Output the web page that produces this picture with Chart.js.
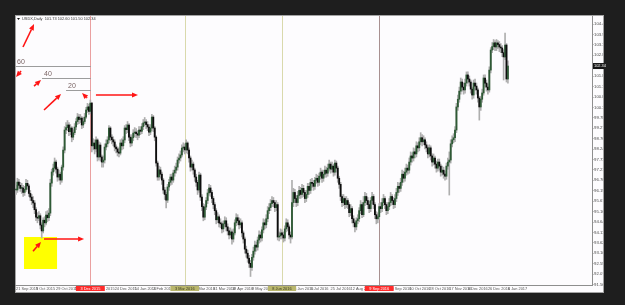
<!DOCTYPE html>
<html>
<head>
<meta charset="utf-8">
<title>USDX,Daily</title>
<script src="https://cdn.jsdelivr.net/npm/chart.js@4.4.1/dist/chart.umd.min.js"></script>
<style>
  html, body { margin: 0; padding: 0; background: #1e1e1e; }
  #wrap { width: 625px; height: 305px; }
</style>
</head>
<body>
<div id="wrap"><canvas id="chart" width="625" height="305"></canvas></div>
<script>
'use strict';

/* ── Daily bars (open = previous close) ── */
const closes = [
  96.22,96.61,96.45,96.30,96.32,96.10,96.25,96.55,96.42,96.05,95.87,95.70,95.58,95.25,94.88,94.83,94.95,94.49,94.20,94.73,
  94.60,94.98,94.85,95.08,96.56,97.11,97.30,97.60,97.25,96.86,97.00,96.71,97.35,98.19,99.18,99.30,99.43,99.10,99.28,98.83,
  99.05,99.33,99.60,99.82,99.70,99.77,99.43,99.60,99.82,100.17,100.32,100.10,100.51,98.40,98.54,98.25,98.69,97.85,98.44,97.85,
  97.60,97.70,98.34,98.50,98.69,99.28,98.83,98.70,98.59,98.34,98.25,98.09,98.04,98.54,98.40,98.69,99.28,99.20,99.43,98.83,
  98.54,98.80,99.03,99.08,99.00,98.93,99.18,99.12,99.35,99.53,99.58,99.45,99.33,99.08,99.28,99.82,99.28,98.83,97.55,96.86,
  97.21,97.00,96.71,96.22,96.00,95.72,96.37,96.60,96.86,96.71,97.06,97.20,97.35,97.70,97.80,97.95,98.29,98.34,98.20,98.54,
  98.19,97.80,97.35,97.50,97.21,96.86,96.60,96.22,96.96,95.87,95.40,94.88,95.38,95.70,96.07,96.32,96.10,95.80,95.50,95.20,
  94.75,94.90,94.60,94.55,94.30,94.55,94.70,94.40,94.20,94.00,94.15,93.80,94.10,94.60,94.85,94.70,94.50,94.60,94.10,93.80,
  93.30,93.10,92.85,92.60,92.40,92.90,93.20,93.50,93.40,93.75,94.00,93.85,94.25,94.60,94.50,94.80,95.20,95.35,95.55,95.70,
  95.60,95.35,95.50,93.90,93.95,94.10,94.00,93.85,94.30,94.60,94.40,94.00,93.90,95.60,96.10,95.80,95.60,95.95,96.20,96.00,
  96.30,96.10,95.80,96.00,96.40,96.20,96.60,96.55,96.40,96.70,96.80,96.60,96.90,97.10,96.80,97.00,97.20,97.05,97.30,97.50,
  97.25,97.40,97.10,97.55,97.30,96.80,96.50,95.90,95.60,95.80,95.50,95.70,95.50,95.10,95.30,94.80,94.60,94.40,94.70,94.80,
  95.20,95.50,95.00,95.60,95.90,95.70,95.50,95.30,95.70,95.90,95.50,95.00,94.80,94.90,95.40,95.30,95.60,95.80,95.50,95.20,
  95.40,95.60,95.90,95.70,95.50,95.80,96.10,96.40,96.30,96.60,97.00,96.80,97.10,97.30,97.20,97.60,97.90,97.80,98.10,98.00,
  98.40,98.30,98.60,98.80,98.60,98.70,98.45,98.30,98.00,98.30,97.90,97.60,97.80,97.50,97.30,97.60,97.40,97.10,97.20,97.00,
  96.90,97.40,97.60,97.70,98.50,98.70,98.80,99.18,100.32,100.70,101.10,101.55,101.30,101.16,101.50,101.90,101.70,101.55,101.20,100.91,
  101.50,101.35,101.16,100.76,100.32,100.70,101.01,101.75,101.50,101.30,101.16,102.14,103.13,103.30,103.48,103.28,103.48,103.40,103.28,103.23,
  103.00,102.79,103.38,101.70,102.34
];
const highs = [
  96.45,96.80,96.75,96.60,96.55,96.45,96.40,96.75,96.70,96.50,96.20,96.00,95.90,95.70,95.35,95.10,95.15,95.05,94.60,94.85,
  94.90,95.15,95.20,95.30,96.75,97.25,97.50,97.80,97.70,97.35,97.20,97.10,97.45,98.35,99.35,99.55,99.65,99.55,99.45,99.35,
  99.20,99.50,99.75,100.00,99.95,99.95,99.85,99.80,100.00,100.30,100.50,100.45,100.66,100.55,98.75,98.70,98.85,98.75,98.60,98.55,
  97.95,97.90,98.50,98.70,98.85,99.40,99.35,98.95,98.85,98.70,98.45,98.35,98.30,98.70,98.75,98.85,99.40,99.45,99.60,99.50,
  98.95,98.95,99.20,99.30,99.25,99.15,99.35,99.35,99.50,99.70,99.80,99.70,99.60,99.45,99.45,99.95,99.90,99.35,98.90,97.65,
  97.40,97.35,97.10,96.80,96.35,96.10,96.50,96.75,97.00,97.00,97.20,97.40,97.55,97.85,98.00,98.15,98.45,98.55,98.50,98.70,
  98.60,98.30,97.90,97.70,97.60,97.30,97.00,96.70,97.10,97.05,96.00,95.55,95.50,95.85,96.25,96.50,96.45,96.20,95.90,95.60,
  95.30,95.10,95.00,94.80,94.65,94.70,94.90,94.85,94.55,94.35,94.35,94.25,94.30,94.75,95.05,95.00,94.85,94.80,94.70,94.20,
  93.90,93.45,93.25,93.00,92.75,93.05,93.40,93.70,93.65,93.90,94.20,94.15,94.40,94.80,94.75,95.00,95.40,95.55,95.75,95.90,
  95.85,95.70,95.70,95.60,94.15,94.30,94.25,94.15,94.45,94.80,94.75,94.50,94.15,96.70,96.30,96.25,95.95,96.15,96.40,96.35,
  96.50,96.45,96.20,96.20,96.55,96.55,96.75,96.80,96.70,96.85,97.00,96.95,97.05,97.30,97.20,97.20,97.40,97.35,97.50,97.70,
  97.60,97.60,97.50,97.70,97.65,97.40,96.90,96.60,96.00,96.00,95.90,95.90,95.80,95.60,95.50,95.40,94.95,94.70,94.85,95.00,
  95.35,95.70,95.60,95.90,96.10,96.05,95.85,95.65,95.85,96.10,96.00,95.60,95.15,95.10,95.55,95.60,95.80,96.00,95.90,95.60,
  95.60,95.80,96.10,96.00,95.85,96.00,96.30,96.60,96.55,96.80,97.20,97.15,97.30,97.50,97.45,97.80,98.10,98.05,98.30,98.25,
  98.60,98.55,98.80,99.05,98.95,98.90,98.80,98.60,98.40,98.45,98.40,98.00,98.00,97.90,97.65,97.75,97.75,97.50,97.40,97.35,
  97.15,97.55,97.80,98.10,98.70,98.90,99.00,99.35,100.50,100.90,101.30,101.75,101.70,101.50,101.70,102.05,102.05,101.85,101.65,101.30,
  101.65,101.70,101.50,101.25,100.85,100.85,101.20,101.90,101.90,101.65,101.45,102.30,103.25,103.50,103.65,103.60,103.65,103.60,103.55,103.45,
  103.35,103.15,103.97,103.45,102.60
];
const lows = [
  96.00,96.10,96.30,96.15,96.05,95.90,95.95,96.15,96.25,95.90,95.70,95.50,95.35,95.05,94.70,94.60,94.70,94.30,93.85,94.10,
  94.40,94.50,94.65,94.70,94.95,96.40,96.95,97.15,97.05,96.65,96.70,96.50,96.60,97.20,98.05,99.00,99.15,98.90,98.95,98.60,
  98.70,98.95,99.20,99.45,99.50,99.55,99.25,99.30,99.50,99.75,100.05,99.95,100.00,98.10,98.20,98.00,98.10,97.65,97.70,97.65,
  97.35,97.35,97.55,98.20,98.35,98.55,98.65,98.50,98.40,98.15,98.05,97.90,97.85,97.95,98.20,98.25,98.55,99.00,99.05,98.65,
  98.35,98.40,98.65,98.85,98.80,98.70,98.80,98.95,99.00,99.20,99.40,99.25,99.15,98.90,98.95,99.15,99.10,98.65,97.40,96.70,
  96.70,96.80,96.50,96.05,95.75,95.33,95.60,96.20,96.45,96.50,96.60,96.90,97.05,97.20,97.55,97.65,97.85,98.10,98.00,98.05,
  98.00,97.60,97.15,97.20,97.00,96.65,96.40,96.00,96.10,95.70,95.20,94.70,94.75,95.25,95.55,95.95,95.90,95.60,95.30,95.00,
  94.55,94.60,94.40,94.35,94.10,94.15,94.40,94.20,94.00,93.80,93.85,93.55,93.65,94.00,94.45,94.50,94.30,94.35,93.90,93.60,
  93.10,92.90,92.65,92.40,91.95,92.25,92.75,93.05,93.20,93.25,93.60,93.65,93.70,94.10,94.30,94.35,94.65,95.05,95.20,95.40,
  95.40,95.15,95.20,93.75,93.70,93.80,93.80,93.65,93.70,94.15,94.20,93.80,93.60,93.80,95.40,95.60,95.40,95.45,95.80,95.80,
  95.85,95.90,95.60,95.65,95.85,96.00,96.05,96.35,96.20,96.25,96.55,96.40,96.45,96.75,96.60,96.65,96.85,96.85,96.90,97.15,
  97.05,97.10,96.90,96.95,97.10,96.60,96.30,95.70,95.40,95.45,95.30,95.35,95.30,94.90,94.95,94.60,94.40,94.15,94.25,94.55,
  94.65,95.05,94.85,94.90,95.45,95.50,95.30,95.10,95.15,95.55,95.30,94.80,94.55,94.60,94.75,95.10,95.15,95.45,95.30,95.00,
  95.05,95.25,95.45,95.50,95.30,95.35,95.65,95.95,96.10,96.15,96.45,96.60,96.65,96.95,97.00,97.05,97.45,97.60,97.65,97.80,
  97.85,98.10,98.15,98.45,98.40,98.45,98.25,98.10,97.80,97.85,97.70,97.40,97.45,97.30,97.10,97.15,97.20,96.90,96.95,96.80,
  96.70,96.75,97.25,95.97,97.55,98.35,98.55,98.60,99.05,100.15,100.55,100.95,101.10,100.95,101.00,101.35,101.50,101.35,101.00,100.70,
  100.75,101.15,100.95,100.55,99.67,100.15,100.55,100.90,101.30,101.10,100.95,101.05,102.00,103.00,103.15,103.10,103.10,103.20,103.05,103.00,
  102.80,101.65,102.65,101.55,101.50
];

/* ── Axis labels ── */
const priceTicks = [104.41,103.90,103.38,102.87,102.35,101.84,101.33,100.81,100.30,99.78,99.27,98.76,98.24,
  97.73,97.21,96.70,96.19,95.67,95.16,94.64,94.13,93.62,93.10,92.59,92.07,91.56];
const dateTickBars = [0,14,28,41,55,69,83,96,110,124,138,151,165,179,193,206,220,234,248,261,275,289,303,316,330,344];
const dateTickLabels = ['21 Sep 2015','9 Oct 2015','29 Oct 2015','17 Nov 2015','7 Dec 2015','24 Dec 2015','14 Jan 2016',
  '2 Feb 2016','22 Feb 2016','11 Mar 2016','31 Mar 2016','19 Apr 2016','9 May 2016','27 May 2016','16 Jun 2016',
  '5 Jul 2016','25 Jul 2016','12 Aug 2016','1 Sep 2016','20 Sep 2016','10 Oct 2016','28 Oct 2016','17 Nov 2016',
  '6 Dec 2016','26 Dec 2016','6 Jan 2017'];

/* ── Drawn objects (bar index / price) ── */
const vlineBars   = [52, 118, 186, 254];
const vlineLabels = ['3 Dec 2015', '3 Mar 2016', '8 Jun 2016', '9 Sep 2016'];
const vlineColors = ['#eaa0a0', '#d9d9ac', '#d9d9ac', '#a89090'];
const vlineBoxes  = ['#ff2a2a', '#b9b66c', '#b9b66c', '#ff2a2a'];

const levelPrices = [102.34, 101.75, 101.16];
const levelStarts = [-0.7, 18.2, 35.0];
const levelEnd    = 52.4;
const levelNames  = ['60', '40', '20'];

const arrowFrom = [[4.9,103.28],[3.5,102.09],[12.6,101.35],[19.6,100.17],[49.7,100.76],[55.9,100.91],[11.9,93.20],[19.6,93.80]];
const arrowTo   = [[12.6,104.41],[0.0,101.80],[17.5,101.65],[31.5,100.96],[46.2,101.01],[85.3,100.91],[17.5,93.65],[47.6,93.80]];

const boxBars   = [5.6, 28.7];
const boxPrices = [93.90, 92.32];

const lastPrice = 102.34;
const title = 'USDX,Daily  101.73 102.60 101.50 102.34';

const opens = closes.map((c, i) => (i === 0 ? c : closes[i - 1]));
const FAMILY = '"Liberation Sans Narrow", "Liberation Sans", sans-serif';
const TINY = '3.9px ' + FAMILY;

function drawArrow(ctx, x1, y1, x2, y2) {
  const ang = Math.atan2(y2 - y1, x2 - x1);
  const len = 6, half = 2.6;
  const bx = x2 - Math.cos(ang) * len, by = y2 - Math.sin(ang) * len;
  ctx.beginPath();
  ctx.moveTo(x1, y1);
  ctx.lineTo(bx, by);
  ctx.stroke();
  ctx.beginPath();
  ctx.moveTo(x2, y2);
  ctx.lineTo(bx - Math.sin(ang) * half, by + Math.cos(ang) * half);
  ctx.lineTo(bx + Math.sin(ang) * half, by - Math.cos(ang) * half);
  ctx.closePath();
  ctx.fill();
}

const terminal = {
  id: 'terminal',
  beforeDraw(chart) {
    const ctx = chart.ctx;
    const a = chart.chartArea;
    ctx.save();
    ctx.fillStyle = '#1e1e1e';
    ctx.fillRect(0, 0, chart.width, chart.height);
    ctx.fillStyle = '#fdfcfe';
    ctx.fillRect(a.left, a.top - 1, 604 - a.left, 293 - a.top + 1);
    ctx.strokeStyle = '#a4a4a4';
    ctx.lineWidth = 1;
    ctx.strokeRect(a.left + 0.5, a.top - 0.5, 604 - a.left - 1, 293 - a.top);
    ctx.restore();
  },
  beforeDatasetsDraw(chart) {
    const ctx = chart.ctx;
    const {x, y} = chart.scales;
    const a = chart.chartArea;
    ctx.save();
    vlineBars.forEach((b, k) => {
      const px = Math.round(x.getPixelForValue(b)) + 0.5;
      ctx.strokeStyle = vlineColors[k];
      ctx.lineWidth = 1;
      ctx.beginPath();
      ctx.moveTo(px, a.top);
      ctx.lineTo(px, a.bottom);
      ctx.stroke();
    });
    const x1 = x.getPixelForValue(boxBars[0]), x2 = x.getPixelForValue(boxBars[1]);
    const y1 = y.getPixelForValue(boxPrices[0]), y2 = y.getPixelForValue(boxPrices[1]);
    ctx.fillStyle = '#ffff00';
    ctx.fillRect(x1, y1, x2 - x1, y2 - y1);
    ctx.restore();
  },
  afterDatasetsDraw(chart) {
    const ctx = chart.ctx;
    const {x, y} = chart.scales;
    ctx.save();
    ctx.strokeStyle = '#9c9c9c';
    ctx.lineWidth = 1;
    ctx.fillStyle = '#7b6464';
    ctx.font = '7px "Liberation Sans", sans-serif';
    ctx.textBaseline = 'bottom';
    levelPrices.forEach((p, k) => {
      const py = Math.round(y.getPixelForValue(p)) + 0.5;
      const xs = x.getPixelForValue(levelStarts[k]);
      ctx.beginPath();
      ctx.moveTo(xs, py);
      ctx.lineTo(x.getPixelForValue(levelEnd), py);
      ctx.stroke();
      ctx.fillText(levelNames[k], xs + 2, py - 1);
    });
    ctx.strokeStyle = '#ff1414';
    ctx.fillStyle = '#ff1414';
    ctx.lineWidth = 1.6;
    arrowFrom.forEach((f, k) => {
      const t = arrowTo[k];
      drawArrow(ctx, x.getPixelForValue(f[0]), y.getPixelForValue(f[1]),
        x.getPixelForValue(t[0]), y.getPixelForValue(t[1]));
    });
    ctx.restore();
  },
  afterDraw(chart) {
    const ctx = chart.ctx;
    const {x, y} = chart.scales;
    const a = chart.chartArea;
    ctx.save();
    ctx.font = TINY;
    ctx.textBaseline = 'middle';
    ctx.textAlign = 'center';
    vlineBars.forEach((b, k) => {
      const cx = x.getPixelForValue(b);
      const w = ctx.measureText(vlineLabels[k]).width + 9;
      ctx.fillStyle = vlineBoxes[k];
      ctx.fillRect(cx - w / 2, a.bottom + 1, w, 5);
      ctx.fillStyle = k === 0 || k === 3 ? '#ffffff' : '#3a3a20';
      ctx.fillText(vlineLabels[k], cx, a.bottom + 3.7);
    });
    const py = y.getPixelForValue(lastPrice);
    ctx.fillStyle = '#141414';
    ctx.fillRect(a.right + 1, py - 3, 11, 6);
    ctx.fillStyle = '#ffffff';
    ctx.textAlign = 'left';
    ctx.fillText(lastPrice.toFixed(2), a.right + 2, py + 0.3);
    ctx.fillStyle = '#101010';
    ctx.beginPath();
    ctx.moveTo(a.left + 2, a.top + 2);
    ctx.lineTo(a.left + 5, a.top + 2);
    ctx.lineTo(a.left + 3.5, a.top + 4);
    ctx.closePath();
    ctx.fill();
    ctx.fillStyle = '#333333';
    ctx.fillText(title, a.left + 7, a.top + 3);
    ctx.restore();
  },
};

new Chart(document.getElementById('chart'), {
  type: 'bar',
  data: {
    datasets: [
      {
        label: 'range',
        data: closes.map((c, i) => ({ x: i, y: [lows[i], highs[i]] })),
        backgroundColor: '#aeaeae',
        barThickness: 1,
        grouped: false,
        order: 2,
      },
      {
        label: 'body',
        data: closes.map((c, i) => ({ x: i, y: [opens[i], c] })),
        backgroundColor: closes.map((c, i) => (c >= opens[i] ? '#2f5a36' : '#0e0e0e')),
        barThickness: 1.2,
        minBarLength: 1,
        grouped: false,
        order: 1,
      },
    ],
  },
  options: {
    responsive: false,
    animation: false,
    events: [],
    layout: { padding: { left: 15, top: 16, right: 22, bottom: 12 } },
    plugins: { legend: { display: false }, tooltip: { enabled: false } },
    scales: {
      x: {
        type: 'linear',
        position: 'bottom',
        min: -0.7,
        max: 402.8,
        offset: false,
        grid: { display: false, drawTicks: false, tickLength: 0 },
        border: { display: true, color: '#8e8e8e' },
        afterFit: s => { s.height = 8; },
        afterBuildTicks: s => { s.ticks = dateTickBars.map(v => ({ value: v })); },
        ticks: {
          autoSkip: false,
          maxRotation: 0,
          align: 'start',
          padding: 1.5,
          color: '#555555',
          font: { size: 3.9, family: FAMILY },
          callback: (v, idx) => dateTickLabels[idx],
        },
      },
      y: {
        position: 'right',
        min: 91.53,
        max: 104.81,
        grid: { drawOnChartArea: false, drawTicks: true, tickLength: 1.5, color: '#8e8e8e' },
        border: { display: true, color: '#8e8e8e' },
        afterFit: s => { s.width = 11; },
        afterBuildTicks: s => { s.ticks = priceTicks.map(v => ({ value: v })); },
        ticks: {
          autoSkip: false,
          padding: 0.5,
          color: '#4a4a4a',
          font: { size: 4.3, family: FAMILY },
          callback: v => v.toFixed(2),
        },
      },
    },
  },
  plugins: [terminal],
});
</script>
</body>
</html>
